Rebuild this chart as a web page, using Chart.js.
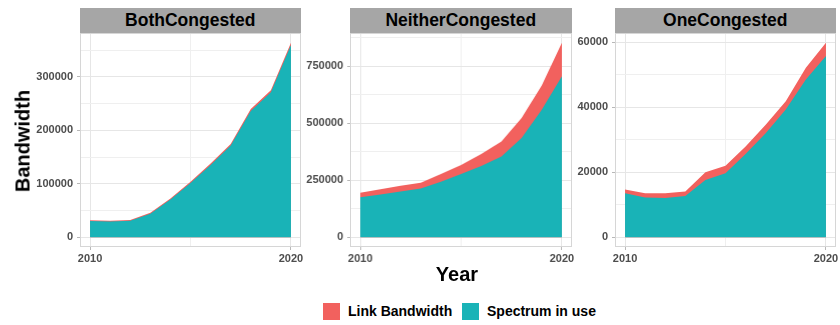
<!DOCTYPE html>
<html>
<head>
<meta charset="utf-8">
<script src="https://cdn.jsdelivr.net/npm/chart.js@4/dist/chart.umd.min.js"></script>
<style>
  html, body { margin: 0; padding: 0; background: #fff; }
  #wrap { position: relative; width: 840px; height: 325px; overflow: hidden;
          font-family: "Liberation Sans", Arial, sans-serif; }
  .strip { position: absolute; background: #a6a6a6; color: #000; font-weight: bold;
           font-size: 17.5px; text-align: center; line-height: 25px; }
  .frame { position: absolute; border: 1px solid #d6d6d6; box-sizing: border-box; pointer-events: none; }
  canvas { position: absolute; }
  .title { position: absolute; font-weight: bold; font-size: 20px; color: #000; white-space: nowrap; }
  .key { position: absolute; width: 17px; height: 17px; }
  .keytxt { position: absolute; font-weight: bold; font-size: 14px; color: #000; white-space: nowrap; line-height: 17px; }
</style>
</head>
<body>
<div id="wrap"></div>
<script>
// Years on the x axis
const years = [2010, 2011, 2012, 2013, 2014, 2015, 2016, 2017, 2018, 2019, 2020];
const xTickLabels = [2010, 2020];
const xGridYears = [2010, 2015, 2020];

// Facet names
const facets = ["BothCongested", "NeitherCongested", "OneCongested"];

// Series names
const seriesNames = ["Link Bandwidth", "Spectrum in use"];

// BothCongested
const bothLink     = [32000, 31000, 32500, 45700, 72600, 104000, 137700, 174600, 239700, 274800, 363700];
const bothSpectrum = [30500, 29500, 31000, 44000, 70500, 101500, 135000, 171500, 236000, 271000, 359500];

// NeitherCongested
const neitherLink     = [195000, 211000, 226000, 239000, 277000, 317000, 365000, 420000, 523000, 665000, 853000];
const neitherSpectrum = [175000, 188000, 201000, 214000, 243000, 277000, 313000, 354000, 435000, 559000, 706000];

// OneCongested
const oneLink     = [14700, 13500, 13500, 14100, 20000, 22000, 27900, 34600, 41800, 52100, 59800];
const oneSpectrum = [13500, 12200, 12100, 12700, 17600, 19700, 25600, 32000, 39300, 48500, 55700];

// Labelled y ticks per facet (minor grid lines fall halfway between)
const bothYTicks    = [0, 100000, 200000, 300000];
const neitherYTicks = [0, 250000, 500000, 750000];
const oneYTicks     = [0, 20000, 40000, 60000];

const colLink = "#f2615e";
const colSpec = "#19b3b7";

const panels = [
  { name: facets[0], link: bothLink,    spec: bothSpectrum,    yTicks: bothYTicks,    left: 79.5 },
  { name: facets[1], link: neitherLink, spec: neitherSpectrum, yTicks: neitherYTicks, left: 350 },
  { name: facets[2], link: oneLink,     spec: oneSpectrum,     yTicks: oneYTicks,     left: 614.5 }
];

const PANEL_W = 221.5;
const PLOT_TOP = 33;
const PLOT_H = 214;
const STRIP_TOP = 8;
const AXIS_W = 60;
const XAXIS_H = 22;
const RIGHT_PAD = 16;

const wrap = document.getElementById("wrap");

function el(tag, cls, style, text) {
  const e = document.createElement(tag);
  if (cls) e.className = cls;
  Object.assign(e.style, style);
  if (text !== undefined) e.textContent = text;
  wrap.appendChild(e);
  return e;
}

const tickFont = { family: "'Liberation Sans', Arial, sans-serif", weight: "bold", size: 11 };

panels.forEach(p => {
  // strip
  el("div", "strip", { left: p.left + "px", top: STRIP_TOP + "px", width: PANEL_W + "px", height: (PLOT_TOP - STRIP_TOP) + "px" }, p.name);

  const cw = AXIS_W + PANEL_W + RIGHT_PAD;
  const canvas = el("canvas", null, {
    left: (p.left - AXIS_W) + "px", top: PLOT_TOP + "px",
    width: cw + "px", height: (PLOT_H + XAXIS_H) + "px"
  });
  canvas.width = cw;
  canvas.height = PLOT_H + XAXIS_H;

  const dataMax = Math.max(...p.link);
  const yMin = -0.05 * dataMax, yMax = 1.05 * dataMax;
  const major = p.yTicks;
  const step = major[1] / 2;
  const yGrid = [];
  for (let v = 0; v <= yMax; v += step) yGrid.push(v);
  const xGrid = xGridYears;

  new Chart(canvas, {
    type: "line",
    data: {
      datasets: [
        { label: seriesNames[1], data: years.map((y, i) => ({ x: y, y: p.spec[i] })),
          backgroundColor: colSpec, borderWidth: 0, pointRadius: 0, fill: "origin", tension: 0 },
        { label: seriesNames[0], data: years.map((y, i) => ({ x: y, y: p.link[i] })),
          backgroundColor: colLink, borderWidth: 0, pointRadius: 0, fill: "origin", tension: 0 }
      ]
    },
    options: {
      responsive: false,
      animation: false,
      devicePixelRatio: 1,
      layout: { padding: { left: 0, top: 0, bottom: 0, right: RIGHT_PAD } },
      plugins: { legend: { display: false }, tooltip: { enabled: false } },
      scales: {
        x: {
          type: "linear", min: 2009.5, max: 2020.5,
          afterBuildTicks: s => { s.ticks = xGrid.map(v => ({ value: v })); },
          afterFit: s => { s.height = XAXIS_H; s.paddingLeft = 0; s.paddingRight = 0; },
          ticks: {
            autoSkip: false, maxRotation: 0, padding: 2, color: "#4d4d4d", font: tickFont,
            callback: v => xTickLabels.includes(v) ? String(v) : ""
          },
          grid: {
            color: ctx => (ctx.tick && xTickLabels.includes(ctx.tick.value)) ? "#e6e6e6" : "#efefef",
            tickColor: ctx => (ctx.tick && xTickLabels.includes(ctx.tick.value)) ? "#b8b8b8" : "rgba(0,0,0,0)",
            tickLength: 3, drawTicks: true
          },
          border: { display: false }
        },
        y: {
          type: "linear", min: yMin, max: yMax,
          afterBuildTicks: s => { s.ticks = yGrid.map(v => ({ value: v })); },
          afterFit: s => { s.width = AXIS_W; s.paddingTop = 0; s.paddingBottom = 0; },
          ticks: {
            autoSkip: false, padding: 4, color: "#4d4d4d", font: tickFont,
            callback: v => major.includes(v) ? String(v) : ""
          },
          grid: {
            color: ctx => (ctx.tick && major.includes(ctx.tick.value)) ? "#e6e6e6" : "#efefef",
            tickColor: ctx => (ctx.tick && major.includes(ctx.tick.value)) ? "#b8b8b8" : "rgba(0,0,0,0)",
            tickLength: 3, drawTicks: true
          },
          border: { display: false }
        }
      }
    }
  });

  // panel border
  el("div", "frame", { left: p.left + "px", top: PLOT_TOP + "px", width: PANEL_W + "px", height: PLOT_H + "px" });
});

// axis titles
el("div", "title", { left: "457px", top: "274px", transform: "translate(-50%,-50%)" }, "Year");
el("div", "title", { left: "23px", top: "141px", transform: "translate(-50%,-50%) rotate(-90deg)" }, "Bandwidth");

// legend
el("div", "key", { left: "323px", top: "303px", background: colLink });
el("div", "keytxt", { left: "348px", top: "303px" }, seriesNames[0]);
el("div", "key", { left: "462px", top: "303px", background: colSpec });
el("div", "keytxt", { left: "487px", top: "303px" }, seriesNames[1]);
</script>
</body>
</html>
